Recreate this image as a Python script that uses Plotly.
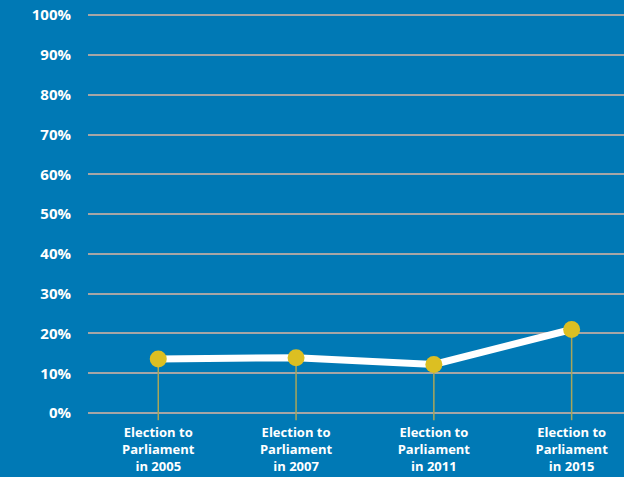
import plotly.graph_objects as go

# Share of votes per election (percent)
categories = ["Election to<br>Parliament<br>in 2005",
              "Election to<br>Parliament<br>in 2007",
              "Election to<br>Parliament<br>in 2011",
              "Election to<br>Parliament<br>in 2015"]
values = [13.6, 13.9, 12.2, 21.0]
y_ticks = [0, 10, 20, 30, 40, 50, 60, 70, 80, 90, 100]
y_tick_labels = [f"{v}%" for v in y_ticks]

BG = "#0079b5"
GRID = "#a6a6a6"
STEM = "#a8a65a"
DOT = "#dcbf22"
FONT = "Open Sans"

xs = list(range(len(categories)))
stem_bottom = -1.8

fig = go.Figure()

# Thin vertical stems from each point down below the baseline
for x, v in zip(xs, values):
    fig.add_trace(go.Scatter(
        x=[x, x], y=[stem_bottom, v], mode="lines",
        line=dict(color=STEM, width=1.5), hoverinfo="skip", showlegend=False,
    ))

# Main line
fig.add_trace(go.Scatter(
    x=xs, y=values, mode="lines",
    line=dict(color="white", width=7), showlegend=False,
))
# Markers on top
fig.add_trace(go.Scatter(
    x=xs, y=values, mode="markers",
    marker=dict(color=DOT, size=17, line=dict(width=0)), showlegend=False,
))

fig.update_layout(
    width=624, height=477,
    margin=dict(l=88, r=0, t=14, b=56),
    paper_bgcolor=BG, plot_bgcolor=BG,
    font=dict(family=FONT, color="white"),
    showlegend=False,
)
fig.update_xaxes(
    range=[-0.51, 3.38], tickmode="array", tickvals=xs, ticktext=categories,
    showgrid=False, zeroline=False, showline=False, ticks="",
    ticklabelstandoff=2, automargin=False,
    tickfont=dict(family=FONT, size=13, color="white", weight="bold"),
)
fig.update_yaxes(
    range=[-2, 100.3], tickmode="array", tickvals=y_ticks, ticktext=y_tick_labels,
    showgrid=True, gridcolor=GRID, gridwidth=1.6, zeroline=False, showline=False,
    ticks="", ticklabelstandoff=16, automargin=False,
    tickfont=dict(family=FONT, size=15, color="white", weight="bold"),
)

fig.write_html("out.html")
